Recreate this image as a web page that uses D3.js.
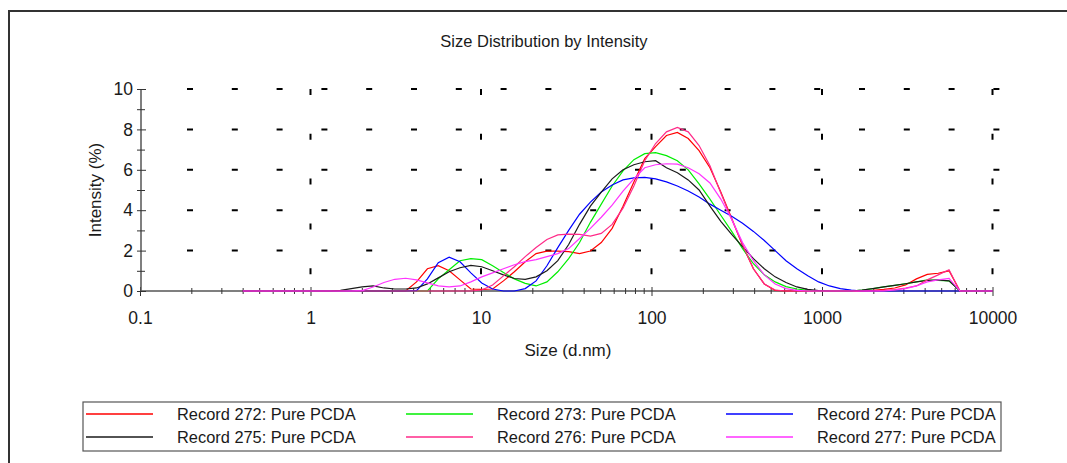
<!doctype html>
<html>
<head>
<meta charset="utf-8">
<title>Size Distribution by Intensity</title>
<script src="https://cdnjs.cloudflare.com/ajax/libs/d3/7.8.5/d3.min.js"></script>
<style>
  body { margin: 0; background: #fff; }
  text { font-family: "Liberation Sans", Arial, sans-serif; fill: #1a1a1a; }
</style>
</head>
<body>
<div id="chart"></div>
<script>
// size bins (d.nm)
const sizes = [0.4, 0.4632, 0.5365, 0.6213, 0.7195, 0.8332, 0.9649, 1.117, 1.294, 1.499,
  1.736, 2.010, 2.328, 2.696, 3.122, 3.615, 4.187, 4.849, 5.615, 6.503,
  7.531, 8.721, 10.10, 11.70, 13.54, 15.69, 18.17, 21.04, 24.36, 28.21,
  32.67, 37.84, 43.82, 50.75, 58.77, 68.06, 78.82, 91.28, 105.7, 122.4,
  141.8, 164.2, 190.1, 220.2, 255.0, 295.3, 342.0, 396.1, 458.7, 531.2,
  615.1, 712.4, 825.0, 955.4, 1106, 1281, 1484, 1718, 1990, 2305,
  2669, 3091, 3580, 4145, 4801, 5560, 6439, 7456, 8635, 10000];

// intensity (%) per record
const rec272 = [0,0,0,0,0,0,0,0,0,0,
  0,0,0,0,0,0,0.45,1.1,1.25,1.0,
  0.55,0.1,0.08,0.1,0.5,0.95,1.45,1.85,1.97,1.97,
  1.95,1.85,1.98,2.4,3.1,4.2,5.4,6.55,7.15,7.7,
  7.85,7.55,6.95,6.1,4.9,3.6,2.25,1.1,0.35,0.03,
  0,0,0,0,0,0,0,0,0.03,0.08,
  0.15,0.3,0.6,0.82,0.88,1.0,0,0,0,0];
const rec273 = [0,0,0,0,0,0,0,0,0,0,
  0,0,0,0,0,0,0,0,0.6,1.05,
  1.5,1.6,1.55,1.25,0.92,0.6,0.38,0.25,0.45,0.95,
  1.6,2.4,3.4,4.3,5.2,5.95,6.5,6.8,6.85,6.7,
  6.45,6.0,5.3,4.55,3.75,2.95,2.1,1.35,0.8,0.45,
  0.22,0.1,0.03,0,0,0,0,0.05,0.12,0.2,
  0.28,0.36,0.45,0.55,0.52,0.5,0,0,0,0];
const rec274 = [0,0,0,0,0,0,0,0,0,0,
  0,0,0,0,0,0,0.02,0.6,1.4,1.67,
  1.45,0.9,0.4,0.1,0,0,0.12,0.5,1.25,2.15,
  3.0,3.8,4.4,4.9,5.25,5.5,5.6,5.62,5.55,5.4,
  5.2,4.95,4.65,4.3,4.0,3.7,3.35,2.95,2.5,2.0,
  1.5,1.1,0.75,0.45,0.25,0.12,0.04,0,0,0,
  0,0,0,0,0,0,0,0,0,0];
const rec275 = [0,0,0,0,0,0,0,0,0,0.03,
  0.12,0.2,0.25,0.15,0.1,0.1,0.15,0.35,0.65,0.95,
  1.15,1.27,1.2,1.0,0.8,0.62,0.58,0.7,1.0,1.5,
  2.3,3.3,4.2,4.9,5.55,6.0,6.25,6.4,6.45,6.1,
  5.85,5.5,5.0,4.2,3.45,2.8,2.2,1.6,1.1,0.7,
  0.42,0.2,0.08,0.02,0,0,0,0.05,0.12,0.2,
  0.28,0.36,0.45,0.52,0.55,0.5,0,0,0,0];
const rec276 = [0,0,0,0,0,0,0,0,0,0,
  0,0,0,0,0,0,0,0,0,0,
  0,0,0.05,0.3,0.75,1.2,1.7,2.15,2.55,2.78,
  2.82,2.8,2.72,2.85,3.3,4.1,5.2,6.45,7.3,7.88,
  8.1,7.88,7.2,6.2,4.85,3.55,2.3,1.1,0.35,0.05,
  0,0,0,0,0,0,0,0,0,0.03,
  0.07,0.15,0.25,0.55,0.8,1.05,0,0,0,0];
const rec277 = [0,0,0,0,0,0,0,0,0,0,
  0,0.02,0.2,0.42,0.58,0.63,0.55,0.4,0.25,0.2,
  0.25,0.45,0.7,0.9,1.1,1.3,1.45,1.55,1.7,1.85,
  2.1,2.6,3.1,3.65,4.25,4.95,5.55,6.1,6.25,6.3,
  6.28,6.1,5.8,5.35,4.55,3.55,2.4,1.5,0.8,0.35,
  0.12,0.03,0,0,0,0,0,0,0,0,
  0.05,0.12,0.25,0.45,0.55,0.62,0,0,0,0];

const names = ["Record 272: Pure PCDA", "Record 273: Pure PCDA", "Record 274: Pure PCDA",
               "Record 275: Pure PCDA", "Record 276: Pure PCDA", "Record 277: Pure PCDA"];
const colors = ["#ff0000", "#00ee00", "#0000ff", "#1a1a1a", "#ff2a88", "#ff33ff"];
const series = [rec272, rec273, rec274, rec275, rec276, rec277];

const xDecades = [0.1, 1, 10, 100, 1000, 10000];
const yTicks = [0, 2, 4, 6, 8, 10];

const W = 1067, H = 463;
const svg = d3.select("#chart").append("svg").attr("width", W).attr("height", H);

// outer frame (top + left edges visible)
svg.append("path").attr("d", "M9,463 L9,11 L1067,11")
  .attr("fill", "none").attr("stroke", "#333").attr("stroke-width", 2);

const x = d3.scaleLog().domain([0.1, 10000]).range([140, 992.5]);
const y = d3.scaleLinear().domain([0, 10]).range([291, 89]);

svg.append("text").attr("x", 544).attr("y", 47).attr("text-anchor", "middle")
  .style("font-size", "16.5px").text("Size Distribution by Intensity");

// dashed grid
svg.append("g").selectAll("line").data(yTicks.slice(1)).join("line")
  .attr("x1", 187).attr("x2", 1000)
  .attr("y1", d => y(d)).attr("y2", d => y(d))
  .attr("stroke", "#000").attr("stroke-width", 2).attr("stroke-dasharray", "6 38.8");
svg.append("g").selectAll("line").data(xDecades.slice(1)).join("line")
  .attr("x1", d => x(d)).attr("x2", d => x(d))
  .attr("y1", y(10)).attr("y2", y(0) - 4)
  .attr("stroke", "#000").attr("stroke-width", 2).attr("stroke-dasharray", "6 38.8");

// x axis
const xAxis = d3.axisBottom(x).tickValues(x.ticks())
  .tickFormat(d => xDecades.includes(d) ? d3.format("~g")(d) : "")
  .tickSize(5).tickPadding(16);
const gx = svg.append("g").attr("transform", `translate(0,${y(0)})`).call(xAxis);
gx.select(".domain").attr("stroke", "#555").attr("stroke-width", 1.5);
gx.selectAll(".tick line").attr("stroke", "#333")
  .attr("y1", d => xDecades.includes(d) ? -4 : -3)
  .attr("y2", d => xDecades.includes(d) ? 5 : 3);
gx.selectAll(".tick text").style("font-size", "17.5px").attr("fill", "#1a1a1a");

// y axis
const yAxis = d3.axisLeft(y).tickValues(d3.range(0, 11))
  .tickFormat(d => d % 2 === 0 ? d : "").tickSize(4).tickPadding(4);
const gy = svg.append("g").attr("transform", "translate(141,0)").call(yAxis);
gy.select(".domain").attr("stroke", "#555").attr("stroke-width", 1.5);
gy.selectAll(".tick line").attr("stroke", "#333")
  .attr("x1", d => d % 2 === 0 ? 5 : 4);
gy.selectAll(".tick text").style("font-size", "17.5px").attr("fill", "#1a1a1a");
gx.selectAll(".domain").attr("d", `M${x(0.1)},0H${x(10000)}`);
gy.selectAll(".domain").attr("d", `M0,${y(0)}V${y(10)}`);

svg.append("text").attr("x", 568).attr("y", 356).attr("text-anchor", "middle")
  .style("font-size", "17px").text("Size (d.nm)");
svg.append("text").attr("transform", "translate(101,190) rotate(-90)")
  .attr("text-anchor", "middle").style("font-size", "17px").text("Intensity (%)");

// curves
const line = d3.line().x((d, i) => x(sizes[i])).y(d => y(d));
svg.append("g").selectAll("path").data(series).join("path")
  .attr("d", d => line(d))
  .attr("fill", "none")
  .attr("stroke", (d, i) => colors[i])
  .attr("stroke-width", 1.2);

// legend
const lg = svg.append("g");
lg.append("rect").attr("x", 83).attr("y", 402).attr("width", 918).attr("height", 49)
  .attr("fill", "#fff").attr("stroke", "#555").attr("stroke-width", 1.2);
const items = lg.selectAll("g.item").data(names).join("g").attr("class", "item")
  .attr("transform", (d, i) => `translate(${86 + (i % 3) * 320},${414 + Math.floor(i / 3) * 23})`);
items.append("line").attr("x1", 0).attr("x2", 67)
  .attr("stroke", (d, i) => colors[i]).attr("stroke-width", 1.5);
items.append("text").attr("x", 91).attr("y", 5.5).style("font-size", "16.4px").text(d => d);
</script>
</body>
</html>
